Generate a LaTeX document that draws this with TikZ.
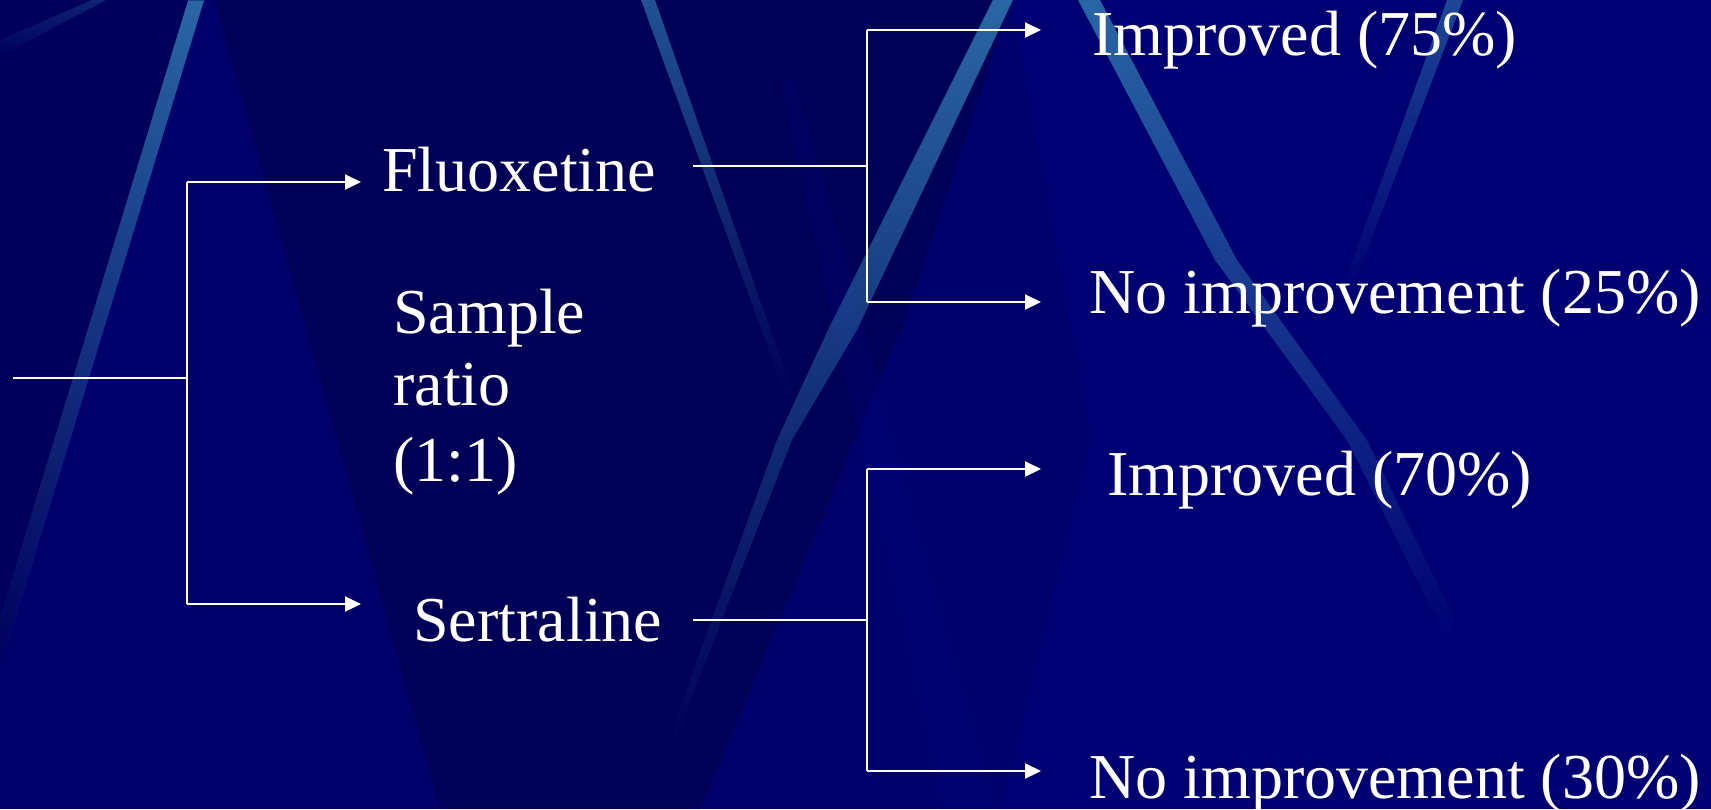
\documentclass[tikz,border=0pt]{standalone}
\usepackage{fontspec}
\setmainfont{Liberation Serif}
\usetikzlibrary{arrows.meta,fadings}

\definecolor{navy}{RGB}{0,0,106}
\definecolor{navydark}{RGB}{0,0,78}
\definecolor{navylight}{RGB}{0,0,122}
\definecolor{streakblue}{RGB}{42,102,165}

\tikzfading[name=streakfade, top color=transparent!0, middle color=transparent!0, bottom color=transparent!100]

\tikzset{
  label/.style={text=white, inner sep=0pt, anchor=base west,
    font=\fontsize{32}{38}\selectfont},
  wire/.style={draw=white, line width=1pt},
  arrowwire/.style={wire, -{Triangle[length=8pt,width=7.5pt]}},
  streak/.style={fill=streakblue, path fading=streakfade},
}

\begin{document}
\begin{tikzpicture}[x=0.5pt, y=-0.5pt]
  % backdrop
  \fill[navy] (0,0) rectangle (1711,809);
  \useasboundingbox (0,0) rectangle (1711,809);
  \clip (0,0) rectangle (1711,809);

  % darker and lighter wedges of the backdrop
  \fill[navydark, opacity=0.7] (215,0) -- (1010,0) -- (900,330) -- (700,809) -- (440,809) -- cycle;
  \fill[navydark, opacity=0.5] (0,0) -- (200,0) -- (0,660) -- cycle;
  \fill[navylight, opacity=0.6] (1010,0) -- (1711,0) -- (1711,809) -- (1000,809) -- (1090,440) -- cycle;
  \fill[navylight, opacity=0.3] (780,80) -- (795,80) -- (1000,809) -- (940,809) -- cycle;

  % light streaks
  \fill[streak] (188,0) -- (204,0) -- (3,660) -- (-13,660) -- cycle;
  \fill[streak, opacity=0.8] (641,0) -- (655,0) -- (795,400) -- (787,400) -- cycle;
  \fill[streak] (993,0) -- (1013,0) -- (857,330) -- (792,440) -- (688,707) -- (672,755)
                -- (668,755) -- (680,707) -- (777,440) -- (828,330) -- cycle;
  \fill[streak] (1078,0) -- (1100,0) -- (1237,260) -- (1367,440) -- (1455,620) -- (1453,650)
                -- (1447,650) -- (1437,620) -- (1347,440) -- (1215,260) -- cycle;
  \fill[streak, opacity=0.7] (1447,0) -- (1463,0) -- (1350,295) -- (1340,295) -- cycle;
  \fill[streak, opacity=0.35] (0,40) -- (92,0) -- (106,0) -- (0,56) -- cycle;

  % junction and arrow-end points of the tree
  \coordinate (root) at (13,378);
  \coordinate (j0) at (187,378);
  \coordinate (j0a) at (187,182);
  \coordinate (j0b) at (187,604);
  \coordinate (tFluo) at (361,182);
  \coordinate (tSert) at (361,604);

  \coordinate (fOut) at (693,166);
  \coordinate (j1) at (867,166);
  \coordinate (j1a) at (867,30);
  \coordinate (j1b) at (867,302);
  \coordinate (tF1) at (1041,30);
  \coordinate (tF2) at (1041,302);

  \coordinate (sOut) at (693,620);
  \coordinate (j2) at (867,620);
  \coordinate (j2a) at (867,469);
  \coordinate (j2b) at (867,771);
  \coordinate (tS1) at (1041,469);
  \coordinate (tS2) at (1041,771);

  % labels
  \node[label] (fluo) at (382,191) {Fluoxetine};
  \node[label] (sert) at (413,641) {Sertraline};
  \node[label] (ratioA) at (393,333) {Sample};
  \node[label] (ratioB) at (393,405) {ratio};
  \node[label] (ratioC) at (393,481) {(1:1)};
  \node[label] (fImp) at (1092,55) {Improved (75\%)};
  \node[label] (fNo) at (1089,313) {No improvement (25\%)};
  \node[label] (sImp) at (1107,495) {Improved (70\%)};
  \node[label] (sNo) at (1089,798) {No improvement (30\%)};

  % connectors
  \draw[wire] (root) -- (j0);
  \draw[wire] (j0a) -- (j0b);
  \draw[arrowwire] (j0a) -- (tFluo);
  \draw[arrowwire] (j0b) -- (tSert);

  \draw[wire] (fOut) -- (j1);
  \draw[wire] (j1a) -- (j1b);
  \draw[arrowwire] (j1a) -- (tF1);
  \draw[arrowwire] (j1b) -- (tF2);

  \draw[wire] (sOut) -- (j2);
  \draw[wire] (j2a) -- (j2b);
  \draw[arrowwire] (j2a) -- (tS1);
  \draw[arrowwire] (j2b) -- (tS2);
\end{tikzpicture}
\end{document}
